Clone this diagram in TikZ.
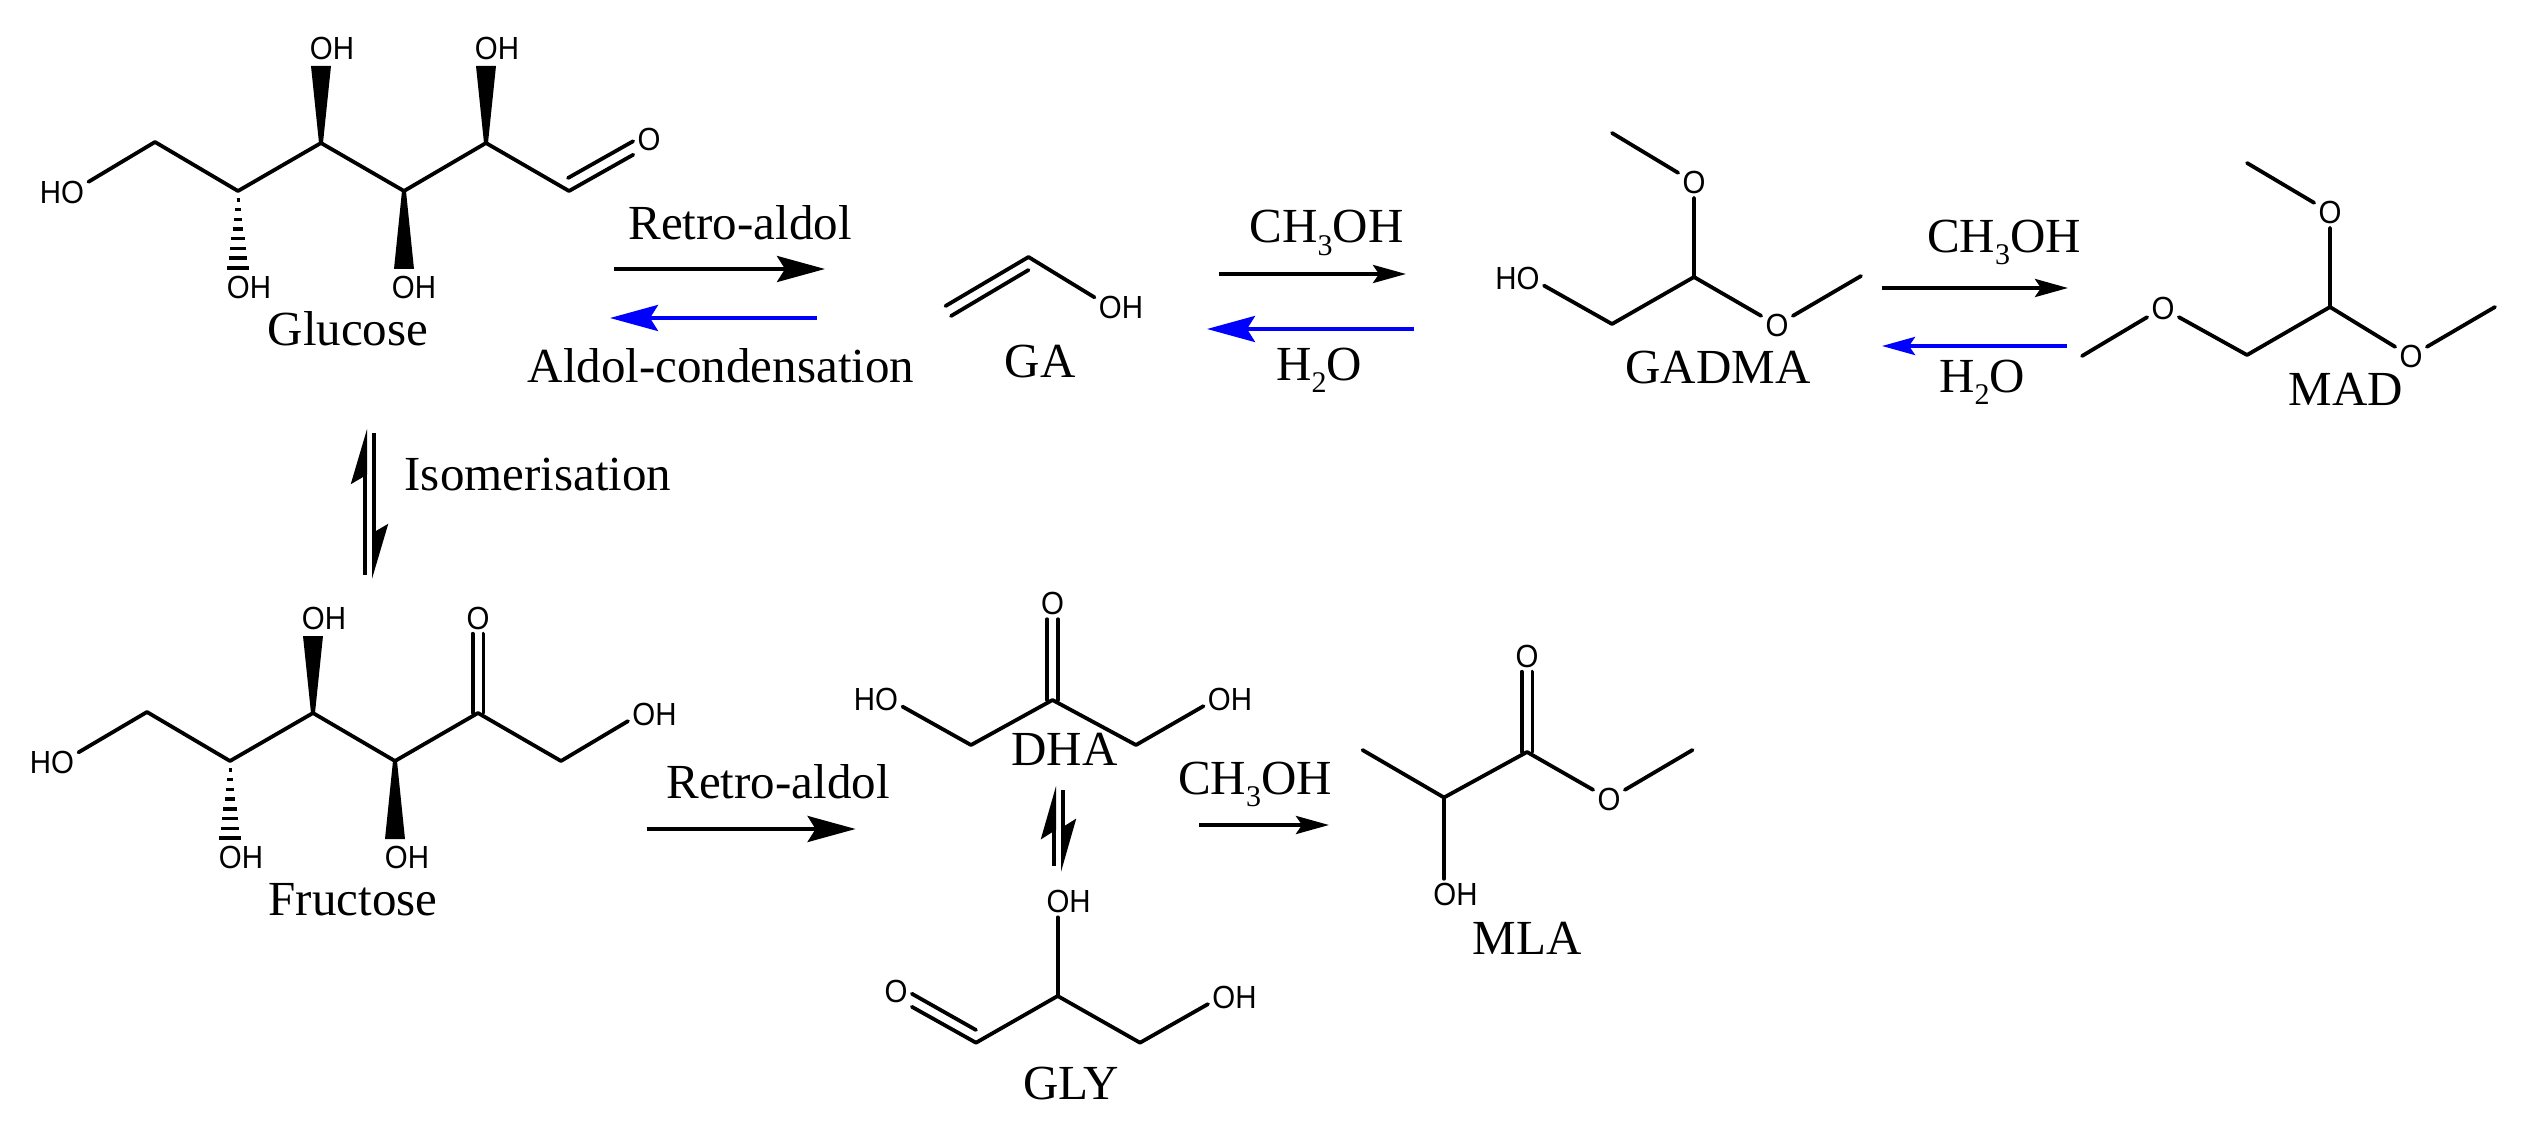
\documentclass[tikz,border=0pt]{standalone}
\usepackage{fontspec}
\setmainfont{Liberation Serif}
\newfontfamily\atomfont[FakeStretch=0.92]{Liberation Sans}
\usetikzlibrary{arrows.meta}
\newcommand{\subdigit}[1]{\raisebox{-6pt}{\fontsize{15}{15}\selectfont #1}}
\newcommand{\wedgebond}[2]{\fill ([xshift=-1pt]#1) -- ([xshift=-5pt]#2) -- ([xshift=5pt]#2) -- ([xshift=1pt]#1) -- cycle;}
\newcommand{\hashbond}[1]{\foreach \i in {0,...,7} {
    \pgfmathsetmacro{\hy}{9+\i*9.7}
    \pgfmathsetmacro{\hw}{1.5+\i*1.3}
    \draw[line width=1.7pt] ([shift={(-\hw,\hy)}]#1) -- ([shift={(\hw,\hy)}]#1);}}
\tikzset{
  atom/.style={font=\atomfont\fontsize{16}{16}\selectfont,inner sep=2pt},
  txt/.style={font=\fontsize{24.5}{28}\selectfont,anchor=base,inner sep=0pt},
  bond/.style={line width=1.9pt,line cap=round,line join=round},
  bigarrow/.style={line width=2pt,-{Stealth[length=24pt,width=13pt,inset=4pt]}},
  smallarrow/.style={line width=2pt,-{Stealth[length=16.5pt,width=9pt,inset=3pt]}},
  harp/.style={line width=2pt,-{Stealth[harpoon,length=24pt,width=14pt,inset=4pt]}},
  harpsmall/.style={line width=2pt,-{Stealth[harpoon,length=23pt,width=13pt,inset=4pt]}}
}
\begin{document}
\begin{tikzpicture}[x=.5pt,y=-.5pt]
  \useasboundingbox (0,0) rectangle (2522,1123);
  % glucose
  \coordinate (g1) at (155,142);
  \coordinate (g2) at (238,191);
  \coordinate (g3) at (321,143);
  \coordinate (g4) at (404,191);
  \coordinate (g5) at (486,143);
  \coordinate (g6) at (569,191);
  \coordinate (g6i) at (568,178);
  \coordinate (gt3) at (321,66);
  \coordinate (gt4) at (404,269);
  \coordinate (gt5) at (486,66);
  \node[atom] (gHO) at (62,192) {HO};
  \node[atom] (gO) at (649,139) {O};
  \node[atom] (gOH3) at (332,48) {OH};
  \node[atom] (gOH5) at (497,48) {OH};
  \node[atom] (gOH2) at (249,287) {OH};
  \node[atom] (gOH4) at (414,287) {OH};
  \draw[bond] (gHO.21) -- (g1) -- (g2) -- (g3) -- (g4) -- (g5) -- (g6) -- (gO.225);
  \draw[bond] (g6i) -- (gO.188);
  \wedgebond{g3}{gt3}
  \wedgebond{g5}{gt5}
  \wedgebond{g4}{gt4}
  \hashbond{g2}
  \node[txt] (glucose) at (348,345) {Glucose};
  % glycolaldehyde
  \coordinate (ga1) at (945.5,306);
  \coordinate (ga1i) at (951,316);
  \coordinate (ga2) at (1028.5,257);
  \coordinate (ga2i) at (1028.5,270);
  \node[atom] (gaOH) at (1121,307) {OH};
  \draw[bond] (ga1) -- (ga2) -- (gaOH.160);
  \draw[bond] (ga1i) -- (ga2i);
  \node[txt] (ga) at (1040,377) {GA};
  % gadma
  \coordinate (d1) at (1612,324);
  \coordinate (d2) at (1694,277);
  \coordinate (d3) at (1612,133);
  \coordinate (d4) at (1861,276);
  \node[atom] (dHO) at (1517.5,278) {HO};
  \node[atom] (dO1) at (1694,182) {O};
  \node[atom] (dO2) at (1777,325) {O};
  \draw[bond] (dHO.344) -- (d1) -- (d2) -- (dO1.south);
  \draw[bond] (d3) -- (dO1.150);
  \draw[bond] (d2) -- (dO2.150);
  \draw[bond] (dO2.30) -- (d4);
  \node[txt] (gadma) at (1718,383) {GADMA};
  % mad
  \coordinate (m1) at (2082,356);
  \coordinate (m2) at (2247,355);
  \coordinate (m3) at (2330,307);
  \coordinate (m4) at (2247,163);
  \coordinate (m5) at (2495,307);
  \node[atom] (mO1) at (2163,308) {O};
  \node[atom] (mO2) at (2330,212) {O};
  \node[atom] (mO3) at (2411,356) {O};
  \draw[bond] (m1) -- (mO1.210);
  \draw[bond] (mO1.330) -- (m2) -- (m3) -- (mO2.south);
  \draw[bond] (m4) -- (mO2.150);
  \draw[bond] (m3) -- (mO3.150);
  \draw[bond] (mO3.30) -- (m5);
  \node[txt] (mad) at (2346,405) {MAD};
  % fructose
  \coordinate (f1) at (147,712);
  \coordinate (f2) at (230,761);
  \coordinate (f3) at (313,713);
  \coordinate (f4) at (395,761);
  \coordinate (f5) at (478,713);
  \coordinate (f6) at (561,761);
  \coordinate (ft3) at (313,636);
  \coordinate (ft4) at (395,839);
  \node[atom] (fHO) at (52,762) {HO};
  \node[atom] (fO) at (478,618) {O};
  \node[atom] (fOH6) at (654.5,714) {OH};
  \node[atom] (fOH3) at (324,618) {OH};
  \node[atom] (fOH2) at (241,857) {OH};
  \node[atom] (fOH4) at (407,857) {OH};
  \draw[bond] (fHO.20) -- (f1) -- (f2) -- (f3) -- (f4) -- (f5) -- (f6) -- (fOH6.195);
  \draw[bond] ([xshift=-2.7pt]f5) -- ([xshift=-2.7pt]fO.south);
  \draw[bond] ([xshift=2.7pt]f5) -- ([xshift=2.7pt]fO.south);
  \wedgebond{f3}{ft3}
  \wedgebond{f4}{ft4}
  \hashbond{f2}
  \node[txt] (fructose) at (353,915) {Fructose};
  % dha
  \coordinate (h1) at (971,745);
  \coordinate (h2) at (1052.5,700);
  \coordinate (h3) at (1136,745);
  \node[atom] (hHO) at (876,699.5) {HO};
  \node[atom] (hO) at (1052.5,603.5) {O};
  \node[atom] (hOH) at (1230,699) {OH};
  \draw[bond] (hHO.345) -- (h1) -- (h2) -- (h3) -- (hOH.195);
  \draw[bond] ([xshift=-2.7pt]h2) -- ([xshift=-2.7pt]hO.south);
  \draw[bond] ([xshift=2.7pt]h2) -- ([xshift=2.7pt]hO.south);
  \node[txt] (dha) at (1064.5,765) {DHA};
  % gly
  \coordinate (y1) at (976,1042.7);
  \coordinate (y1i) at (976,1030);
  \coordinate (y2) at (1057.7,996);
  \coordinate (y3) at (1140,1042.7);
  \node[atom] (yO) at (896,991.5) {O};
  \node[atom] (yOH2) at (1068.6,901.6) {OH};
  \node[atom] (yOH3) at (1234.5,997) {OH};
  \draw[bond] (yO.316) -- (y1) -- (y2) -- (y3) -- (yOH3.195);
  \draw[bond] (yO.352) -- (y1i);
  \draw[bond] (y2) -- (y2 |- yOH2.south);
  \node[txt] (gly) at (1071,1099) {GLY};
  % mla
  \coordinate (l1) at (1362.5,750);
  \coordinate (l2) at (1444,797.5);
  \coordinate (l3) at (1527,752);
  \coordinate (l4) at (1692.5,750);
  \node[atom] (lO1) at (1527,656) {O};
  \node[atom] (lO2) at (1609,799) {O};
  \node[atom] (lOH) at (1455.5,894.5) {OH};
  \draw[bond] (l1) -- (l2) -- (l3) -- (lO2.150);
  \draw[bond] (lO2.30) -- (l4);
  \draw[bond] (l2) -- (l2 |- lOH.north);
  \draw[bond] ([xshift=-2.7pt]l3) -- ([xshift=-2.7pt]lO1.south);
  \draw[bond] ([xshift=2.7pt]l3) -- ([xshift=2.7pt]lO1.south);
  \node[txt] (mla) at (1527,954) {MLA};
  % arrows
  \coordinate (a1s) at (614,269);
  \coordinate (a1e) at (825,269);
  \coordinate (a2s) at (817,318);
  \coordinate (a2e) at (610,318);
  \coordinate (a3s) at (1219,274);
  \coordinate (a3e) at (1406,274);
  \coordinate (a4s) at (1414,329);
  \coordinate (a4e) at (1207,329);
  \coordinate (a5s) at (1882,288);
  \coordinate (a5e) at (2068,288);
  \coordinate (a6s) at (2067,346);
  \coordinate (a6e) at (1882,346);
  \coordinate (a7s) at (646.5,829);
  \coordinate (a7e) at (855.6,829);
  \coordinate (a8s) at (1199,825);
  \coordinate (a8e) at (1329,825);
  \draw[bigarrow] (a1s) -- (a1e);
  \draw[bigarrow,blue] (a2s) -- (a2e);
  \draw[smallarrow] (a3s) -- (a3e);
  \draw[bigarrow,blue] (a4s) -- (a4e);
  \draw[smallarrow] (a5s) -- (a5e);
  \draw[smallarrow,blue] (a6s) -- (a6e);
  \draw[bigarrow] (a7s) -- (a7e);
  \draw[smallarrow] (a8s) -- (a8e);
  % equilibria
  \coordinate (e1s) at (365,575);
  \coordinate (e1e) at (365,429);
  \coordinate (e2s) at (374,433);
  \coordinate (e2e) at (374,579);
  \coordinate (e3s) at (1054,866);
  \coordinate (e3e) at (1054,786);
  \coordinate (e4s) at (1063,790);
  \coordinate (e4e) at (1063,872);
  \draw[harp] (e1s) -- (e1e);
  \draw[harp] (e2s) -- (e2e);
  \draw[harpsmall] (e3s) -- (e3e);
  \draw[harpsmall] (e4s) -- (e4e);
  % labels
  \node[txt] (ra1) at (740,240) {Retro-aldol};
  \node[txt] (ac) at (721,382) {Aldol-condensation};
  \node[txt] (me1) at (1326.5,243) {CH\subdigit{3}OH};
  \node[txt] (w1) at (1319,380) {H\subdigit{2}O};
  \node[txt] (me2) at (2004,252.7) {CH\subdigit{3}OH};
  \node[txt] (w2) at (1982,392.7) {H\subdigit{2}O};
  \node[txt] (iso) at (538,490) {Isomerisation};
  \node[txt] (ra2) at (778,798) {Retro-aldol};
  \node[txt] (me3) at (1255,794) {CH\subdigit{3}OH};
\end{tikzpicture}
\end{document}
